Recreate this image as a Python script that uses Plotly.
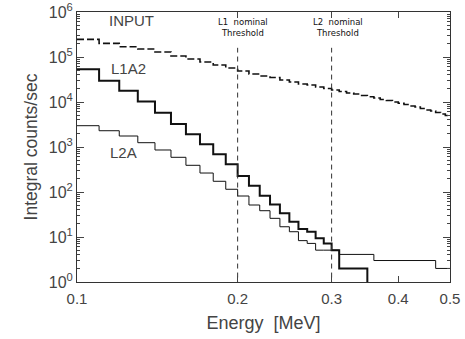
import plotly.graph_objects as go

# ---- data ----
l1a2_edges = [0.10, 0.11, 0.12, 0.13, 0.14, 0.15, 0.16, 0.17, 0.18, 0.19, 0.20,
              0.21, 0.22, 0.23, 0.24, 0.25, 0.26, 0.27, 0.28, 0.29, 0.30, 0.31, 0.35]
l1a2_counts = [53300, 29700, 17800, 10200, 5780, 3250, 1920, 1150, 690, 413, 227,
               138, 83, 53, 33.6, 21.9, 15.0, 13.1, 9.4, 7.2, 5.1, 2.0]

l2a_edges = [0.10, 0.11, 0.12, 0.13, 0.14, 0.15, 0.16, 0.17, 0.18, 0.19, 0.20,
             0.21, 0.22, 0.23, 0.24, 0.25, 0.26, 0.27, 0.28, 0.29, 0.30, 0.31,
             0.36, 0.47, 0.50]
l2a_counts = [2975, 2300, 1755, 1247, 858, 590, 392, 264, 173, 115, 81.5,
              51.4, 38.4, 26, 16.9, 13.1, 8.3, 7.2, 5.1, 5.1, 5.1, 4.1, 3.0, 2.0]

input_edges = [0.10, 0.11, 0.12, 0.13, 0.14, 0.15, 0.16, 0.17, 0.18, 0.19, 0.20,
               0.21, 0.22, 0.23, 0.24, 0.25, 0.26, 0.27, 0.28, 0.29, 0.30,
               0.31, 0.32, 0.33, 0.34, 0.35, 0.36, 0.37, 0.38, 0.39, 0.40,
               0.41, 0.42, 0.43, 0.44, 0.45, 0.46, 0.47, 0.48, 0.49, 0.50]
input_counts = [247000, 201000, 169000, 151000, 129000, 105000, 90300, 77400, 66400, 57000,
                48900, 41900, 37800, 35000, 30800, 27800, 25100, 23900, 21500, 19950,
                18500, 17100, 15850, 15060, 13940, 13120, 12270, 11370, 10790, 10000,
                9350, 8790, 8150, 7740, 7170, 6640, 6310, 5840, 5410, 5010]

thresholds = [0.2, 0.3]
threshold_labels = ["L1  nominal<br>Threshold", "L2  nominal<br>Threshold"]
threshold_top = 1.6e5

x_ticks = [0.1, 0.2, 0.3, 0.4, 0.5]
x_ticktext = ["0.1", "0.2", "0.3", "0.4", "0.5"]
y_ticks = [1, 10, 100, 1000, 1e4, 1e5, 1e6]
y_ticktext = ["10<sup>0</sup>", "10<sup>1</sup>", "10<sup>2</sup>", "10<sup>3</sup>",
              "10<sup>4</sup>", "10<sup>5</sup>", "10<sup>6</sup>"]

FONT = "Liberation Sans"
TXT = "#444"


def step(edges, counts):
    return list(edges), list(counts) + [counts[-1]]


fig = go.Figure()

x, y = step(input_edges, input_counts)
fig.add_trace(go.Scatter(x=x, y=y, mode="lines", line_shape="hv",
                         line=dict(color="#111", width=1.6, dash="7px,3px"),
                         showlegend=False, hoverinfo="skip"))

x, y = step(l1a2_edges, l1a2_counts)
x = x + [l1a2_edges[-1]]
y = y + [0.1]
fig.add_trace(go.Scatter(x=x, y=y, mode="lines", line_shape="hv",
                         line=dict(color="#111", width=2),
                         showlegend=False, hoverinfo="skip"))

x, y = step(l2a_edges, l2a_counts)
fig.add_trace(go.Scatter(x=x, y=y, mode="lines", line_shape="hv",
                         line=dict(color="#111", width=1),
                         showlegend=False, hoverinfo="skip"))

for t in thresholds:
    fig.add_trace(go.Scatter(x=[t, t], y=[0.5, threshold_top], mode="lines",
                             line=dict(color="#333", width=1, dash="5px,4px"),
                             showlegend=False, hoverinfo="skip"))

annos = [
    dict(text="INPUT", x=0.145, y=0.967, size=15),
    dict(text="L1A2", x=0.137, y=0.789, size=15),
    dict(text="L2A", x=0.126, y=0.478, size=15),
]
for a in annos:
    fig.add_annotation(text=a["text"], x=a["x"], y=a["y"], xref="paper", yref="paper",
                       showarrow=False, font=dict(family=FONT, size=a["size"], color=TXT),
                       xanchor="center", yanchor="middle")

for lbl, xp in zip(threshold_labels, [0.445, 0.70]):
    fig.add_annotation(text=lbl, x=xp, y=0.943, xref="paper", yref="paper",
                       showarrow=False, font=dict(family="DejaVu Sans", size=8.5, color="#111"),
                       xanchor="center", yanchor="middle", align="center")

axis_common = dict(showline=True, linecolor="#333", linewidth=1, mirror="ticks",
                   ticks="inside", showgrid=False, zeroline=False, automargin=False,
                   ticklabeloverflow="allow")

fig.update_xaxes(type="log", range=[-1, -0.30103], tickvals=x_ticks, ticktext=x_ticktext,
                 ticklen=6, tickangle=0, ticklabelstandoff=3,
                 tickfont=dict(family=FONT, size=15, color=TXT),
                 title=dict(text="Energy  [MeV]", font=dict(family=FONT, size=18, color=TXT),
                            standoff=10),
                 **axis_common)
fig.update_yaxes(type="log", range=[0, 6], tickvals=y_ticks, ticktext=y_ticktext,
                 ticklen=7,
                 tickfont=dict(family=FONT, size=16, color=TXT),
                 minor=dict(ticks="inside", ticklen=3,
                            tickvals=[m * 10 ** e for e in range(6) for m in range(2, 10)],
                            showgrid=False),
                 title=dict(text="Integral counts/sec", font=dict(family=FONT, size=17.5, color=TXT),
                            standoff=6),
                 **axis_common)

fig.update_layout(width=465, height=339, margin=dict(l=77, r=15, t=12, b=57),
                  plot_bgcolor="white", paper_bgcolor="white")

fig.write_html("out.html", config={"displayModeBar": False},
               post_script="document.body.style.margin='0';")
